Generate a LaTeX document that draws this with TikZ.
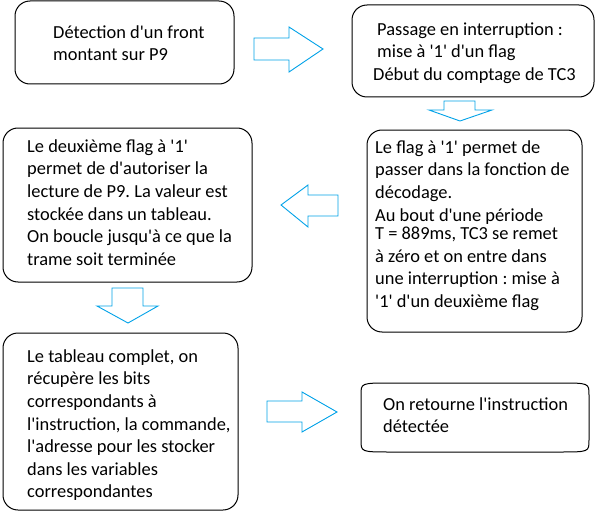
\documentclass[tikz,border=0pt]{standalone}
\usepackage{fontspec}
\setmainfont{Carlito}[Ligatures=TeXOff]
\definecolor{arrowblue}{HTML}{00A2E8}
\newcommand\firststrut{\rule{0pt}{16pt}}
\frenchspacing
\begin{document}
\begin{tikzpicture}[x=1pt,y=-1pt,
  box/.style={draw=black, line width=1pt, rounded corners=15pt, inner sep=0pt},
  txt/.style={anchor=north west, inner sep=0pt, align=left, font=\fontsize{18.4}{22.6}\selectfont\frenchspacing, text=black},
  blockarrow/.style={draw=arrowblue, line width=0.9pt, fill=white, line join=miter}]
\fill[white] (0,0) rectangle (595,511);
\useasboundingbox (0,0) rectangle (595,511);

% boxes
\node[box, minimum width=219pt, minimum height=83pt] (b1) at (124.5,42.5) {};
\node[box, minimum width=242pt, minimum height=92pt] (b2) at (473,51) {};
\node[box, minimum width=215pt, minimum height=202pt] (b3) at (474.5,231) {};
\node[box, minimum width=249pt, minimum height=154pt] (b4) at (127.5,205) {};
\node[box, minimum width=235pt, minimum height=177pt] (b5) at (120.5,421.5) {};
\draw[line width=1pt] (361,395) .. controls (361,383) .. (391,383) -- (559,383)
  .. controls (589,383) .. (589,395) -- (589,440) .. controls (589,452) .. (559,452)
  -- (391,452) .. controls (361,452) .. (361,440) -- cycle;

% texts
\node[txt] (t1) at (53,22) {\firststrut D\'etection d'un front\\montant sur P9};
\node[txt] (t2) at (377,19) {\firststrut Passage en interruption :\\mise \`a '1' d'un flag\\\hspace*{-4pt}D\'ebut du comptage de TC3};
\node[txt] (t3) at (375,137) {\firststrut Le flag \`a '1' permet de\\passer dans la fonction de\\d\'ecodage.\\Au bout d'une p\'eriode\\[-4pt]T = 889ms, TC3 se remet\\\`a z\'ero et on entre dans\\une interruption : mise \`a\\'1' d'un deuxi\`eme flag};
\node[txt] (t4) at (27,136) {\firststrut Le deuxi\`eme flag \`a '1'\\permet de d'autoriser la\\lecture de P9. La valeur est\\stock\'ee dans un tableau.\\On boucle jusqu'\`a ce que la\\trame soit termin\'ee};
\node[txt] (t5) at (27,346) {\firststrut Le tableau complet, on\\r\'ecup\`ere les bits\\correspondants \`a\\l'instruction, la commande,\\l'adresse pour les stocker\\dans les variables\\correspondantes};
\node[txt] (t6) at (383,394) {\firststrut On retourne l'instruction\\d\'etect\'ee};

% block arrows
\draw[blockarrow] (254,38) -- (289,38) -- (289,27) -- (323,49) -- (289,72) -- (289,60) -- (254,60) -- cycle;
\draw[blockarrow] (444,101) -- (475,101) -- (475,110) -- (492,110) -- (460,121) -- (429,110) -- (444,110) -- cycle;
\draw[blockarrow] (338,195) -- (308,195) -- (308,185) -- (281,205) -- (308,227) -- (308,216) -- (338,216) -- cycle;
\draw[blockarrow] (112,288) -- (143,288) -- (143,306) -- (158,306) -- (128,323) -- (97,306) -- (112,306) -- cycle;
\draw[blockarrow] (267,401) -- (302,401) -- (302,392) -- (337,412) -- (302,432) -- (302,422) -- (267,422) -- cycle;
\end{tikzpicture}
\end{document}
